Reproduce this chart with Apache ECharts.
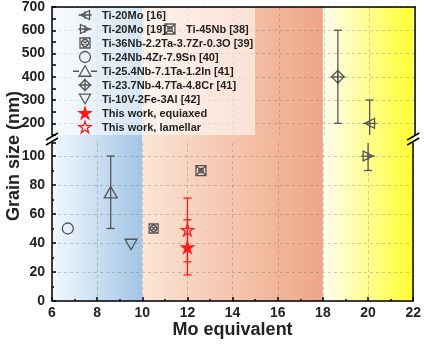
<!DOCTYPE html>
<html><head><meta charset="utf-8">
<script src="https://cdn.jsdelivr.net/npm/echarts@6/dist/echarts.min.js"></script>
<style>html,body{margin:0;padding:0;background:#fff}#c{width:424px;height:345px}</style>
</head><body><div id="c"></div>
<script>
// ---- data ----
const names = ['Ti-20Mo [16]', 'Ti-20Mo [19]', 'Ti-45Nb [38]', 'Ti-36Nb-2.2Ta-3.7Zr-0.3O [39]',
  'Ti-24Nb-4Zr-7.9Sn [40]', 'Ti-25.4Nb-7.1Ta-1.2In [41]', 'Ti-23.7Nb-4.7Ta-4.8Cr [41]',
  'Ti-10V-2Fe-3Al [42]', 'This work, equiaxed', 'This work, lamellar'];
const moEq = [20, 20, 12.6, 10.5, 6.7, 8.6, 18.6, 9.5, 12, 12];
const grain = [200, 100, 90, 50, 50, 75, 400, 39, 37, 49];
const grainErr = [100, 10, 0, 0, 0, 25, 200, 0, 19, 22];
const xRange = [6, 22];
const upperRange = [150, 700];
const lowerRange = [0, 109];
const regionBounds = [6, 10, 18, 22];

// ---- style ----
const FONT = "'Liberation Sans', Arial, sans-serif";
const GRAY = '#555', RED = '#ff1a1a';
const GRID = 'rgba(110,110,110,0.35)';
const STAR = 'M100,0 L122.45,69.1 L195.1,69.1 L136.3,111.8 L158.8,180.9 L100,138.2 L41.2,180.9 L63.7,111.8 L4.9,69.1 L77.55,69.1 Z';
const PATHS = [
  'M15,50 L85,15 L85,85 Z M0,50 L100,50 M50,22 L50,78',
  'M85,50 L15,15 L15,85 Z M0,50 L100,50 M50,22 L50,78',
  'M10,10 L90,10 L90,90 L10,90 Z M10,10 L90,90 M90,10 L10,90 M32,50 A18,18 0 1,0 68,50 A18,18 0 1,0 32,50',
  'M10,10 L90,10 L90,90 L10,90 Z M22,50 A28,28 0 1,0 78,50 A28,28 0 1,0 22,50 M30,30 L70,70 M70,30 L30,70',
  null,
  'M50,0 L100,87 L0,87 Z',
  'M50,8 L92,50 L50,92 L8,50 Z M0,50 L100,50 M50,0 L50,100',
  'M0,0 L100,0 L50,87 Z',
  STAR, STAR];
const SIZE = [14, 14, 10, 9, 11, 13, 15, 12, 12, 12];
const COL = [GRAY, GRAY, GRAY, GRAY, GRAY, GRAY, GRAY, GRAY, RED, RED];
const NOFILL = 'rgba(0,0,0,0)';
const FILL = [NOFILL, NOFILL, NOFILL, NOFILL, NOFILL, NOFILL, NOFILL, NOFILL, RED, NOFILL];
const legendCell = [[0,0],[0,1],[1,1],[0,2],[0,3],[0,4],[0,5],[0,6],[0,7],[0,8]];
const legendIconX = [85, 170];
const legendTextX = [102, 186];
const LEG_SIZE = [13, 13, 10, 10, 11, 12, 13, 11, 12, 12];
const TRI_LINE = 'M0,6 L6,6 M18,6 L24,6 M12,0.5 L18,11 L6,11 Z';

const chart = echarts.init(document.getElementById('c'));
const panelOf = v => v >= upperRange[0] ? 0 : 1;

function makeErr(color) {
  return function (params, api) {
    const cs = params.coordSys;
    const x = api.value(0), lo = api.value(1), hi = api.value(2);
    const p1 = api.coord([x, lo]), p2 = api.coord([x, hi]);
    const clamp = v => Math.max(cs.y, Math.min(cs.y + cs.height, v));
    const st = { stroke: color, lineWidth: 1.3 };
    const ch = [{ type: 'line', shape: { x1: p1[0], y1: clamp(p1[1]), x2: p1[0], y2: clamp(p2[1]) }, style: st }];
    const c = 4;
    if (p1[1] <= cs.y + cs.height + 0.5) ch.push({ type: 'line', shape: { x1: p1[0] - c, y1: p1[1], x2: p1[0] + c, y2: p1[1] }, style: st });
    if (p2[1] >= cs.y - 0.5) ch.push({ type: 'line', shape: { x1: p2[0] - c, y1: p2[1], x2: p2[0] + c, y2: p2[1] }, style: st });
    return { type: 'group', children: ch };
  };
}

const series = [];
names.forEach((n, i) => {
  const p = panelOf(grain[i]);
  series.push({
    type: 'scatter', name: n, xAxisIndex: p, yAxisIndex: p,
    data: [[moEq[i], grain[i]]], symbol: PATHS[i] ? 'path://' + PATHS[i] : 'circle',
    symbolSize: SIZE[i], symbolKeepAspect: true,
    itemStyle: { color: FILL[i], borderColor: COL[i], borderWidth: 1.3, opacity: 1 },
    z: 5, silent: true
  });
});
names.forEach((n, i) => {
  if (grainErr[i] > 0) {
    const p = panelOf(grain[i]);
    series.push({
      type: 'custom', xAxisIndex: p, yAxisIndex: p,
      data: [[moEq[i], grain[i] - grainErr[i], grain[i] + grainErr[i]]],
      encode: { x: 0, y: [1, 2] }, renderItem: makeErr(COL[i]), z: 4, silent: true
    });
  }
});
// legend icons (one item per series name)
series.push({
  type: 'custom', coordinateSystem: 'none', silent: true, z: 6,
  data: names.map((n, i) => [i]),
  renderItem: function (params) {
    const i = params.dataIndex;
    const c = legendCell[i][0], r = legendCell[i][1];
    const cx = legendIconX[c], cy = 15 + 14 * r;
    const st = { fill: FILL[i], stroke: COL[i], lineWidth: 1.3 };
    if (!PATHS[i]) return { type: 'circle', shape: { cx: cx, cy: cy, r: LEG_SIZE[i] / 2 }, style: st };
    const w = i === 5 ? 24 : LEG_SIZE[i], h = i === 5 ? 11 : LEG_SIZE[i];
    return { type: 'path', shape: { pathData: i === 5 ? TRI_LINE : PATHS[i], x: cx - w / 2, y: cy - h / 2,
      width: w, height: h, layout: 'center' }, style: st };
  }
});

const axisLineStyle = { show: true, lineStyle: { color: '#000', width: 1.5 } };
const labelStyle = { fontFamily: FONT, fontSize: 14, fontWeight: 'bold', color: '#222' };
const splitStyle = { show: true, lineStyle: { color: GRID, type: [3, 3], width: 1 } };

const option = {
  animation: false,
  grid: [
    { left: 52, right: 9, top: 7, height: 128 },
    { left: 52, right: 9, top: 143, bottom: 44 }
  ],
  xAxis: [
    { gridIndex: 0, type: 'value', min: xRange[0], max: xRange[1], interval: 2, position: 'top',
      axisLine: axisLineStyle, axisTick: { show: false }, axisLabel: { show: false }, splitLine: splitStyle },
    { gridIndex: 1, type: 'value', min: xRange[0], max: xRange[1], interval: 2, position: 'bottom',
      axisLine: axisLineStyle,
      axisTick: { show: true, inside: true, length: 4, lineStyle: { color: '#000', width: 1.5 } },
      minorTick: { show: true, splitNumber: 2, length: 2, lineStyle: { color: '#000', width: 1.5 } },
      axisLabel: Object.assign({ margin: 5 }, labelStyle), splitLine: splitStyle,
      name: 'Mo equivalent', nameLocation: 'middle', nameGap: 19,
      nameTextStyle: { fontFamily: FONT, fontSize: 18, fontWeight: 'bold', color: '#222' } }
  ],
  yAxis: [
    { gridIndex: 0, type: 'value', min: upperRange[0], max: upperRange[1], interval: 50, position: 'left',
      axisLine: axisLineStyle,
      axisTick: { show: true, inside: true, length: 4, lineStyle: { color: '#000', width: 1.5 } },
      axisLabel: Object.assign({ margin: 7, formatter: v => (v % 100 === 0 ? String(v) : '') }, labelStyle),
      splitLine: { show: true, lineStyle: { color: [NOFILL, GRID], type: [3, 3], width: 1 } } },
    { gridIndex: 1, type: 'value', min: lowerRange[0], max: lowerRange[1], interval: 20, position: 'left',
      axisLine: axisLineStyle,
      axisTick: { show: true, inside: true, length: 4, lineStyle: { color: '#000', width: 1.5 } },
      minorTick: { show: true, splitNumber: 2, length: 2, lineStyle: { color: '#000', width: 1.5 } },
      axisLabel: Object.assign({ margin: 7, showMaxLabel: false, formatter: v => (v % 20 === 0 ? String(v) : '') }, labelStyle),
      splitLine: Object.assign({ showMaxLine: false }, splitStyle) },
    { gridIndex: 0, type: 'value', min: upperRange[0], max: upperRange[1], position: 'right',
      axisLine: axisLineStyle, axisTick: { show: false }, axisLabel: { show: false }, splitLine: { show: false } },
    { gridIndex: 1, type: 'value', min: lowerRange[0], max: lowerRange[1], position: 'right',
      axisLine: axisLineStyle, axisTick: { show: false }, axisLabel: { show: false }, splitLine: { show: false } }
  ],
  series: series
};
chart.setOption(option);

// background regions & decorations, positioned through the axes
const px = v => chart.convertToPixel({ xAxisIndex: 1 }, v);
const yTop = chart.convertToPixel({ yAxisIndex: 0 }, upperRange[1]);
const yBot = chart.convertToPixel({ yAxisIndex: 1 }, lowerRange[0]);
const yUpBot = chart.convertToPixel({ yAxisIndex: 0 }, upperRange[0]);
const yLowTop = chart.convertToPixel({ yAxisIndex: 1 }, lowerRange[1]);
const yBreak = (yUpBot + yLowTop) / 2;
const regionColors = [['#f3f8fd', '#a2c5e6'], ['#fce4d5', '#eea686'], ['#fffdf0', '#ffff30']];
const graphic = [];
for (let k = 0; k < 3; k++) {
  const x0 = px(regionBounds[k]), x1 = px(regionBounds[k + 1]);
  graphic.push({ type: 'rect', z: -5, silent: true,
    shape: { x: x0, y: yTop, width: x1 - x0, height: yBot - yTop },
    style: { fill: new echarts.graphic.LinearGradient(0, 0, 1, 0, [
      { offset: 0, color: regionColors[k][0] }, { offset: 1, color: regionColors[k][1] }]) } });
}
graphic.push({ type: 'rect', z: 1, silent: true,
  shape: { x: 56, y: yTop + 1, width: 199, height: yUpBot - yTop - 1 },
  style: { fill: 'rgba(255,255,255,0.55)' } });

// legend texts
names.forEach((n, i) => {
  const c = legendCell[i][0], r = legendCell[i][1];
  graphic.push({ type: 'text', z: 6, silent: true, x: legendTextX[c], y: 15 + 14 * r + 0.5,
    style: { text: n, verticalAlign: 'middle', align: 'left',
      font: "bold 11px 'Liberation Sans', Arial, sans-serif", fill: '#222' } });
});

// axis break marks
[px(xRange[0]), px(xRange[1])].forEach(ax => {
  [-2.5, 2.5].forEach(d => {
    graphic.push({ type: 'line', z: 8, silent: true,
      shape: { x1: ax - 6, y1: yBreak + d + 3.5, x2: ax + 6, y2: yBreak + d - 3.5 },
      style: { stroke: '#000', lineWidth: 1.5 } });
  });
});
graphic.push({ type: 'text', z: 8, silent: true, x: 14, y: (yTop + yBot) / 2 + 2, rotation: Math.PI / 2,
  style: { text: 'Grain size (nm)', align: 'center', verticalAlign: 'middle',
    font: "bold 18px 'Liberation Sans', Arial, sans-serif", fill: '#222' } });
chart.setOption({ graphic: graphic });
</script></body></html>
